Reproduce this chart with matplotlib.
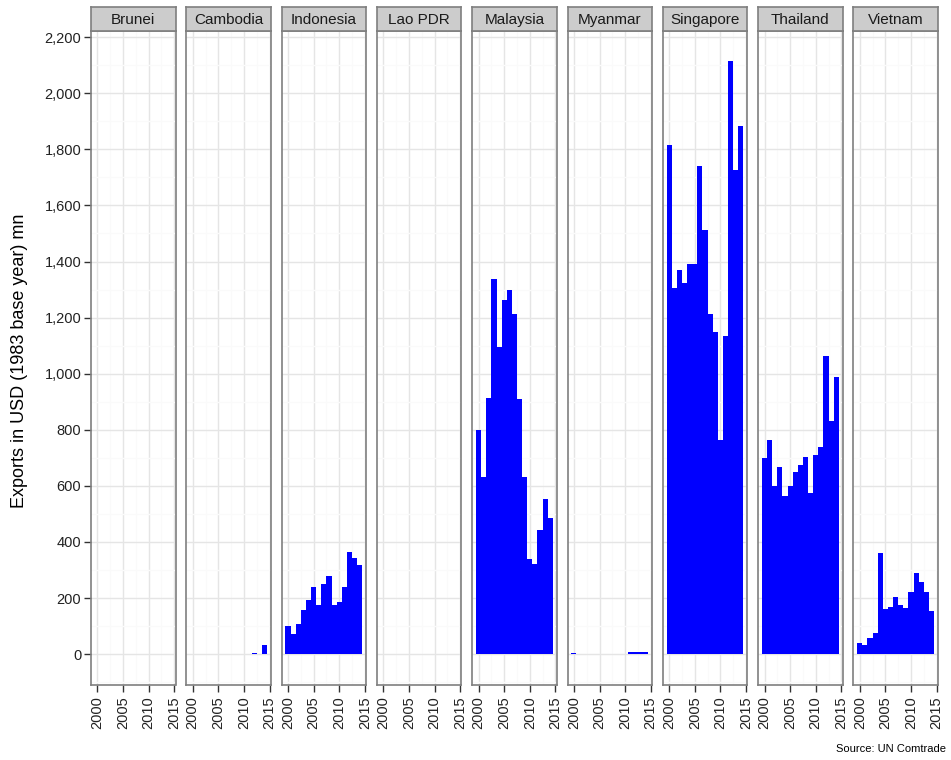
"""
Exports by ASEAN country, faceted bar chart (ggplot theme_bw look)
"""
import numpy as np
import matplotlib
matplotlib.use('Agg')
import matplotlib.pyplot as plt
from matplotlib.ticker import FuncFormatter, MultipleLocator

# ============================================================================
# DATA
# ============================================================================
countries = ['Brunei', 'Cambodia', 'Indonesia', 'Lao PDR', 'Malaysia',
             'Myanmar', 'Singapore', 'Thailand', 'Vietnam']
years = list(range(2000, 2015))

brunei = [0] * 15
cambodia = [0, 0, 0, 0, 0, 0, 0, 0, 0, 0, 0, 0, 4, 0, 32]
indonesia = [101, 73, 107, 158, 193, 238, 175, 251, 279, 175, 186, 238, 364, 344, 319]
lao = [0] * 15
malaysia = [800, 630, 915, 1338, 1094, 1264, 1299, 1213, 910, 630, 338, 323, 442, 555, 487]
myanmar = [5, 0, 0, 0, 0, 0, 0, 0, 0, 0, 0, 6, 6, 6, 6]
singapore = [1817, 1306, 1371, 1323, 1390, 1390, 1739, 1514, 1214, 1150, 763, 1134, 2116, 1725, 1882]
thailand = [698, 765, 601, 668, 563, 601, 650, 676, 704, 573, 710, 738, 1064, 831, 989]
vietnam = [38, 32, 56, 74, 360, 160, 169, 204, 177, 165, 220, 290, 256, 220, 154]

series = [brunei, cambodia, indonesia, lao, malaysia, myanmar, singapore, thailand, vietnam]

# ============================================================================
# LAYOUT
# ============================================================================
W, H = 951, 760
fig = plt.figure(figsize=(W / 100, H / 100), dpi=100)
plt.rcParams['font.family'] = ['Liberation Sans', 'DejaVu Sans']

panel_left0, panel_w, panel_step = 91, 84.5, 95.3
panel_top, panel_bot, strip_top = 31, 685, 7

grey50, grey80, grey90, grey98 = '#7F7F7F', '#CCCCCC', '#E5E5E5', '#FAFAFA'
tick_col = '#333333'

ymin, ymax = -110, 2222
xmin, xmax = 1998.75, 2015.25

for i, (name, vals) in enumerate(zip(countries, series)):
    x0 = panel_left0 + i * panel_step
    ax = fig.add_axes([x0 / W, (H - panel_bot) / H, panel_w / W, (panel_bot - panel_top) / H])
    ax.bar(years, vals, width=1.0, color='#0000FF', edgecolor='none', zorder=3)
    ax.set_xlim(xmin, xmax)
    ax.set_ylim(ymin, ymax)

    ax.xaxis.set_major_locator(MultipleLocator(5))
    ax.xaxis.set_minor_locator(MultipleLocator(2.5))
    ax.yaxis.set_major_locator(MultipleLocator(200))
    ax.yaxis.set_minor_locator(MultipleLocator(100))
    ax.grid(which='major', color=grey90, lw=1.0, zorder=0)
    ax.grid(which='minor', color=grey98, lw=1.0, zorder=0)
    ax.set_axisbelow(True)

    for sp in ax.spines.values():
        sp.set_color(grey50)
        sp.set_linewidth(1.2)

    ax.tick_params(axis='x', which='major', length=5, width=1, color=tick_col,
                   labelsize=10.5, labelcolor='#222222', labelrotation=90, pad=3)
    ax.tick_params(axis='both', which='minor', length=0)
    if i == 0:
        ax.yaxis.set_major_formatter(FuncFormatter(lambda v, p: f"{int(v):,}"))
        ax.tick_params(axis='y', which='major', length=5, width=1, color=tick_col,
                       labelsize=10.5, labelcolor='#222222', pad=2)
        ax.set_ylabel('Exports in USD (1983 base year) mn', fontsize=13)
        ax.yaxis.set_label_coords((28 - x0) / panel_w, 0.495)
    else:
        ax.tick_params(axis='y', which='major', length=0, labelleft=False)

    # strip on top of panel
    sax = fig.add_axes([x0 / W, (H - panel_top) / H, panel_w / W, (panel_top - strip_top) / H])
    sax.set_facecolor(grey80)
    sax.set_xticks([])
    sax.set_yticks([])
    for sp in sax.spines.values():
        sp.set_color(grey50)
        sp.set_linewidth(1.2)
    sax.text(0.5, 0.45, name, ha='center', va='center', fontsize=11, color='#1A1A1A',
             transform=sax.transAxes)

fig.text(946 / W, 1 - 749 / H, 'Source: UN Comtrade', ha='right', va='center', fontsize=8)

plt.savefig('out.png', dpi=100)
